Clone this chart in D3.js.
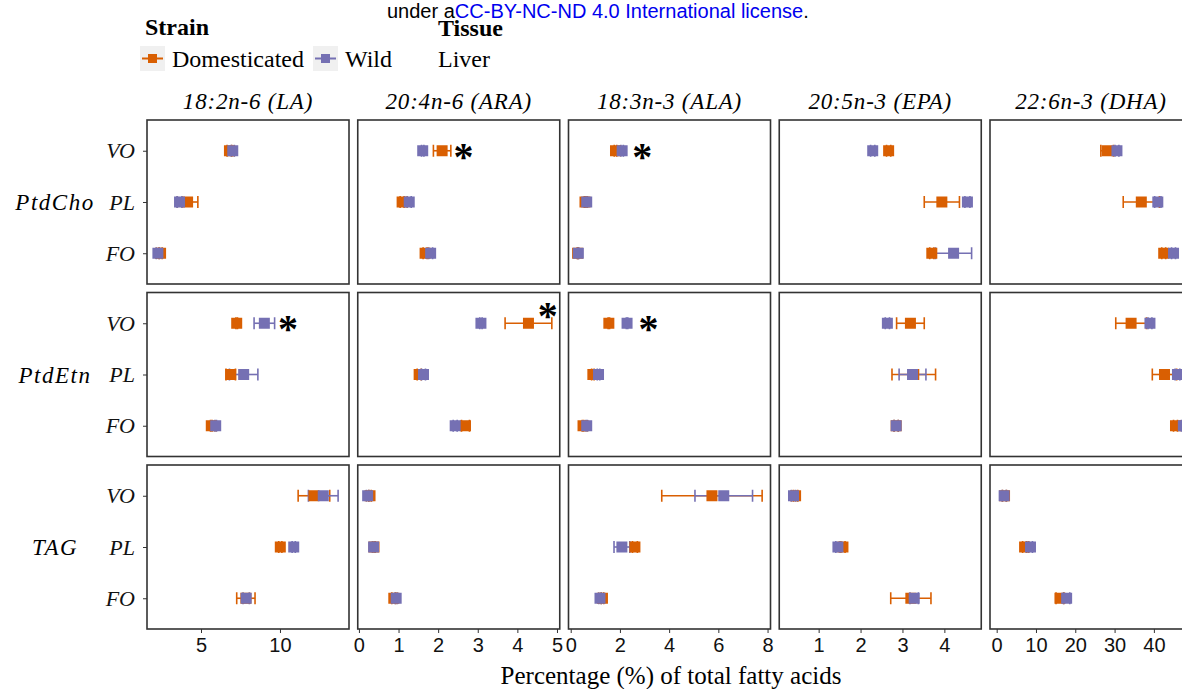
<!DOCTYPE html>
<html lang="en">

<head>
  <meta charset="UTF-8">
  <title>Liver fatty acids</title>
  <style>
    body { margin: 0; background: #fff; }
  </style>
</head>

<body>
  <svg id="svg" width="1182" height="689"></svg>

  <script src="https://d3js.org/d3.v7.min.js"></script>
  <script>

    // categories
    const lipids = ['PtdCho', 'PtdEtn', 'TAG']
    const fattyAcids = ['18:2n-6 (LA)', '20:4n-6 (ARA)', '18:3n-3 (ALA)', '20:5n-3 (EPA)', '22:6n-3 (DHA)']
    const diets = ['VO', 'PL', 'FO']
    const strains = ['Domesticated', 'Wild']

    // x domains and tick labels for each fatty acid column
    const xDomains = [[1.58, 14.37], [-0.03, 5.07], [-0.09, 8.12], [0.06, 4.88], [-1.7, 49.7]]
    const xTicks = [[5, 10], [0, 1, 2, 3, 4, 5], [0, 2, 4, 6, 8], [1, 2, 3, 4], [0, 10, 20, 30, 40]]

    // mean values, rows = fatty acids (LA, ARA, ALA, EPA, DHA), cols = diets (VO, PL, FO)
    const domPtdCho = [[6.80, 4.15, 2.44], [2.10, 1.09, 1.67], [1.82, 0.58, 0.28], [2.67, 3.94, 3.70], [28.1, 36.8, 42.5]]
    const wildPtdCho = [[7.01, 3.64, 2.27], [1.61, 1.27, 1.81], [2.09, 0.65, 0.31], [2.29, 4.55, 4.22], [30.6, 41.0, 45.0]]
    const domPtdEtn = [[7.26, 6.88, 5.65], [4.28, 1.52, 2.69], [1.55, 0.90, 0.50], [3.19, 3.27, 2.85], [34.2, 42.7, 45.5]]
    const wildPtdEtn = [[9.01, 7.70, 5.93], [3.08, 1.63, 2.43], [2.29, 1.13, 0.65], [2.64, 3.24, 2.85], [39.0, 46.0, 47.5]]
    const domTAG = [[12.15, 10.02, 7.84], [0.28, 0.38, 0.88], [5.74, 2.61, 1.29], [0.45, 1.58, 3.20], [2.0, 7.1, 16.1]]
    const wildTAG = [[12.74, 10.87, 7.86], [0.22, 0.37, 0.94], [6.22, 2.08, 1.19], [0.40, 1.46, 3.28], [1.9, 8.6, 17.8]]

    // standard errors, same layout
    const domPtdChoSE = [[0.15, 0.65, 0.1], [0.22, 0.05, 0.05], [0.05, 0.03, 0.02], [0.05, 0.42, 0.05], [1.6, 4.6, 0.5]]
    const wildPtdChoSE = [[0.1, 0.15, 0.1], [0.03, 0.05, 0.05], [0.05, 0.03, 0.02], [0.05, 0.06, 0.43], [0.5, 0.8, 0.5]]
    const domPtdEtnSE = [[0.05, 0.3, 0.05], [0.59, 0.05, 0.1], [0.03, 0.05, 0.03], [0.33, 0.52, 0.05], [3.9, 3.1, 0.5]]
    const wildPtdEtnSE = [[0.65, 0.9, 0.05], [0.03, 0.05, 0.05], [0.03, 0.05, 0.03], [0.05, 0.32, 0.05], [0.5, 0.6, 0.5]]
    const domTAGSE = [[1.0, 0.1, 0.58], [0.03, 0.03, 0.05], [2.04, 0.1, 0.05], [0.05, 0.05, 0.48], [0.5, 0.5, 1.0]]
    const wildTAGSE = [[0.94, 0.1, 0.2], [0.03, 0.03, 0.03], [1.17, 0.32, 0.05], [0.05, 0.05, 0.1], [0.5, 0.5, 0.8]]

    // significance marks: [lipid, fatty acid index, x value, raised]
    const stars = [
      ['PtdCho', 1, 2.64, 0], ['PtdCho', 2, 2.91, 0],
      ['PtdEtn', 0, 10.5, 0], ['PtdEtn', 1, 4.77, 1], ['PtdEtn', 2, 3.16, 0]
    ]

    const means = {
      Domesticated: { PtdCho: domPtdCho, PtdEtn: domPtdEtn, TAG: domTAG },
      Wild: { PtdCho: wildPtdCho, PtdEtn: wildPtdEtn, TAG: wildTAG }
    }
    const ses = {
      Domesticated: { PtdCho: domPtdChoSE, PtdEtn: domPtdEtnSE, TAG: domTAGSE },
      Wild: { PtdCho: wildPtdChoSE, PtdEtn: wildPtdEtnSE, TAG: wildTAGSE }
    }

    // flat table for drawing
    const rows = []
    strains.forEach(s => lipids.forEach(l => fattyAcids.forEach((fa, i) => diets.forEach((d, j) => {
      rows.push({ strain: s, lipid: l, fa: fa, fi: i, diet: d, mean: means[s][l][i][j], se: ses[s][l][i][j] })
    }))))

    const colour = d3.scaleOrdinal().domain(strains).range(['#D95F02', '#7570B3'])
    const serif = '"Liberation Serif", "Times New Roman", serif'
    const sans = '"Liberation Sans", Arial, sans-serif'

    const colScale = d3.scaleBand().domain(fattyAcids).range([147, 1192]).paddingInner(0.0415)
    const rowScale = d3.scaleBand().domain(lipids).range([120, 629]).paddingInner(0.0493)
    const pw = colScale.bandwidth()
    const ph = rowScale.bandwidth()

    const xScales = fattyAcids.map((fa, i) => d3.scaleLinear().domain(xDomains[i]).range([0, pw]))
    const yScale = d3.scalePoint().domain(diets).range([0, ph]).padding(0.6)

    const svg = d3.select('#svg')

    // top banner text
    const banner = svg.append('text').attr('x', 387).attr('y', 18)
      .style('font-family', sans).style('font-size', '20px')
    banner.append('tspan').text('under a')
    banner.append('tspan').attr('fill', '#0000ee').text('CC-BY-NC-ND 4.0 International license')
    banner.append('tspan').text('.')

    // legend
    svg.append('text').attr('x', 145).attr('y', 35).text('Strain')
      .style('font-family', serif).style('font-weight', 'bold').style('font-size', '24px')
    svg.append('text').attr('x', 438).attr('y', 36).text('Tissue')
      .style('font-family', serif).style('font-weight', 'bold').style('font-size', '24px')
    svg.append('text').attr('x', 438).attr('y', 67).text('Liver')
      .style('font-family', serif).style('font-size', '24px')

    const legendX = [140, 313]
    const key = svg.selectAll('.key').data(strains).enter().append('g')
      .attr('class', 'key')
      .attr('transform', (d, i) => `translate(${legendX[i]},46)`)
    key.append('rect').attr('width', 25).attr('height', 25).attr('fill', '#f0f0f0')
    key.append('line').attr('x1', 2).attr('x2', 23).attr('y1', 12.5).attr('y2', 12.5)
      .attr('stroke', d => colour(d)).attr('stroke-width', 2)
    key.append('rect').attr('x', 8).attr('y', 8).attr('width', 9).attr('height', 9)
      .attr('fill', d => colour(d))
    key.append('text').attr('x', 32).attr('y', 21).text(d => d)
      .style('font-family', serif).style('font-size', '24px')

    // strip labels
    svg.selectAll('.strip').data(fattyAcids).enter().append('text')
      .attr('x', d => colScale(d) + pw / 2).attr('y', 109)
      .attr('text-anchor', 'middle')
      .style('font-family', serif).style('font-style', 'italic').style('font-size', '23px')
      .style('letter-spacing', '0.8px')
      .text(d => d)

    // lipid row labels
    svg.selectAll('.rowlab').data(lipids).enter().append('text')
      .attr('x', 55).attr('y', d => rowScale(d) + yScale('PL') + 8)
      .attr('text-anchor', 'middle')
      .style('font-family', serif).style('font-style', 'italic').style('font-size', '23px')
      .style('letter-spacing', '1.5px')
      .text(d => d)

    lipids.forEach((lip, r) => {
      fattyAcids.forEach((fa, c) => {
        const x = xScales[c]
        const g = svg.append('g').attr('transform', `translate(${colScale(fa)},${rowScale(lip)})`)

        g.append('rect').attr('width', pw).attr('height', ph)
          .attr('fill', '#fff').attr('stroke', '#333').attr('stroke-width', 1.6)

        const cell = rows.filter(d => d.lipid === lip && d.fi === c)

        // error bars first, points on top
        const eb = g.selectAll('.eb').data(cell).enter().append('g')
          .attr('stroke', d => colour(d.strain)).attr('stroke-width', 1.6)
        eb.append('line')
          .attr('x1', d => x(d.mean - d.se)).attr('x2', d => x(d.mean + d.se))
          .attr('y1', d => yScale(d.diet)).attr('y2', d => yScale(d.diet))
        eb.append('line')
          .attr('x1', d => x(d.mean - d.se)).attr('x2', d => x(d.mean - d.se))
          .attr('y1', d => yScale(d.diet) - 6).attr('y2', d => yScale(d.diet) + 6)
        eb.append('line')
          .attr('x1', d => x(d.mean + d.se)).attr('x2', d => x(d.mean + d.se))
          .attr('y1', d => yScale(d.diet) - 6).attr('y2', d => yScale(d.diet) + 6)

        g.selectAll('.pt').data(cell).enter().append('rect')
          .attr('x', d => x(d.mean) - 5.5).attr('y', d => yScale(d.diet) - 5.5)
          .attr('width', 11).attr('height', 11)
          .attr('fill', d => colour(d.strain))

        g.selectAll('.star').data(stars.filter(s => s[0] === lip && s[1] === c)).enter().append('text')
          .attr('x', d => x(d[2])).attr('y', d => yScale('VO') + 19 - d[3] * 13)
          .attr('text-anchor', 'middle')
          .style('font-family', serif).style('font-weight', 'bold').style('font-size', '40px')
          .text('*')

        if (c === 0) {
          const ya = g.append('g').call(d3.axisLeft(yScale).tickSize(4).tickPadding(8))
          ya.select('.domain').remove()
          ya.selectAll('line').attr('stroke', '#333')
          ya.selectAll('text').style('font-family', serif).style('font-style', 'italic')
            .style('font-size', '22px').attr('fill', '#111')
        }
        if (r === lipids.length - 1) {
          const xa = g.append('g').attr('transform', `translate(0,${ph})`)
            .call(d3.axisBottom(x).tickValues(xTicks[c]).tickFormat(d3.format('~g')).tickSize(4).tickPadding(5))
          xa.select('.domain').remove()
          xa.selectAll('line').attr('stroke', '#333')
          xa.selectAll('text').style('font-family', sans).style('font-size', '20px').attr('fill', '#111')
        }
      })
    })

    svg.append('text').attr('x', 671).attr('y', 684).attr('text-anchor', 'middle')
      .style('font-family', serif).style('font-size', '25px')
      .text('Percentage (%) of total fatty acids')

  </script>
</body>

</html>
